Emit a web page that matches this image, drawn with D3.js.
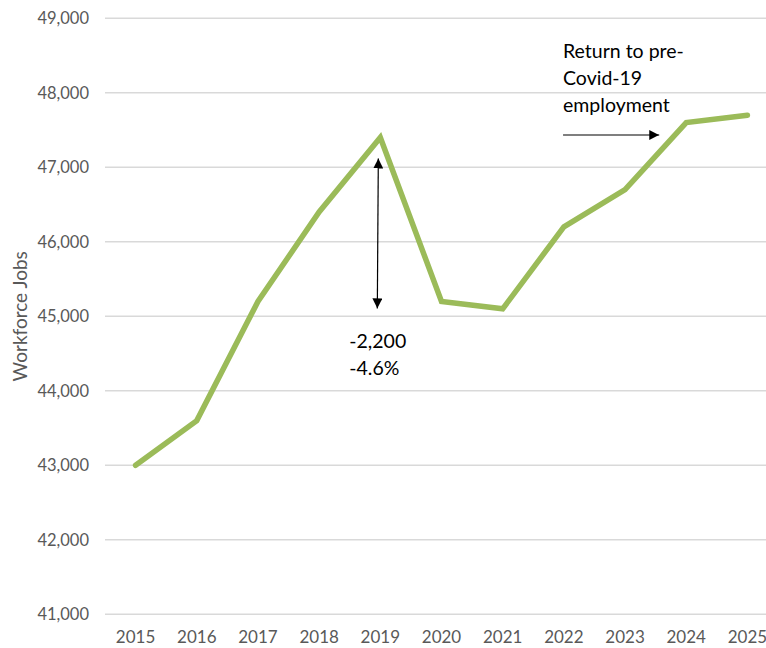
<!DOCTYPE html>
<html>
<head>
<meta charset="utf-8">
<script src="https://cdn.jsdelivr.net/npm/d3@7"></script>
<style>
  html, body { margin: 0; padding: 0; background: #fff; }
  svg { display: block; }
  text { font-family: Lato, "Open Sans", sans-serif; }
</style>
</head>
<body>
<div id="chart"></div>
<script>
// Workforce jobs by year
const years = ["2015", "2016", "2017", "2018", "2019", "2020", "2021", "2022", "2023", "2024", "2025"];
const jobs = [43000, 43600, 45200, 46400, 47400, 45200, 45100, 46200, 46700, 47600, 47700];
const yTicks = [41000, 42000, 43000, 44000, 45000, 46000, 47000, 48000, 49000];
const dropLabel = ["-2,200", "-4.6%"];
const recoveryLabel = ["Return to pre-", "Covid-19", "employment"];

const width = 766, height = 648;
const margin = { top: 18, right: -12, bottom: 34, left: 105 };

const svg = d3.select("#chart").append("svg")
  .attr("width", width).attr("height", height);

const x = d3.scaleBand()
  .domain(years)
  .range([margin.left, width - margin.right])
  .paddingInner(0).paddingOuter(0);

const y = d3.scaleLinear()
  .domain([41000, 49000])
  .range([height - margin.bottom + 0.3, margin.top + 0.3]);

const cx = d => x(d) + x.bandwidth() / 2;

// horizontal gridlines
svg.append("g")
  .selectAll("line")
  .data(yTicks)
  .join("line")
  .attr("x1", margin.left)
  .attr("x2", width)
  .attr("y1", d => y(d))
  .attr("y2", d => y(d))
  .attr("stroke", "#d9d9d9")
  .attr("stroke-width", 1.5);

// y axis labels
const yAxis = d3.axisLeft(y)
  .tickValues(yTicks)
  .tickFormat(d3.format(","))
  .tickSize(0)
  .tickPadding(0);
svg.append("g")
  .attr("transform", `translate(${margin.left - 16},0)`)
  .call(yAxis)
  .call(g => g.select(".domain").remove())
  .call(g => g.selectAll("text")
    .attr("fill", "#595959")
    .style("font-size", "16.5px")
    .style("font-family", "Lato, sans-serif"));

// x axis labels
const xAxis = d3.axisBottom(x).tickSize(0).tickPadding(0);
svg.append("g")
  .attr("transform", `translate(0,${height - margin.bottom + 17})`)
  .call(xAxis)
  .call(g => g.select(".domain").remove())
  .call(g => g.selectAll("text")
    .attr("fill", "#595959")
    .style("font-size", "17px")
    .style("font-family", "Lato, sans-serif"));

// y axis title
svg.append("text")
  .attr("transform", `translate(27,${(y(41000) + y(49000)) / 2}) rotate(-90)`)
  .attr("text-anchor", "middle")
  .attr("fill", "#595959")
  .style("font-size", "19px")
  .text("Workforce Jobs");

// the series line
const line = d3.line()
  .x((d, i) => cx(years[i]))
  .y(d => y(d));

svg.append("path")
  .datum(jobs)
  .attr("fill", "none")
  .attr("stroke", "#9bbb59")
  .attr("stroke-width", 5.5)
  .attr("stroke-linejoin", "miter")
  .attr("stroke-linecap", "round")
  .attr("d", line);

// arrow markers
const defs = svg.append("defs");
defs.append("marker")
  .attr("id", "head")
  .attr("viewBox", "0 0 10 10")
  .attr("refX", 10).attr("refY", 5)
  .attr("markerWidth", 10).attr("markerHeight", 10)
  .attr("markerUnits", "userSpaceOnUse")
  .attr("orient", "auto-start-reverse")
  .append("path")
  .attr("d", "M0,0 L10,5 L0,10 Z")
  .attr("fill", "#000");

// drop from 2019 to 2020
const peakIdx = years.indexOf("2019");
const dropX = cx("2019") - 2;
svg.append("line")
  .attr("x1", dropX).attr("x2", dropX - 1)
  .attr("y1", y(jobs[peakIdx]) + 21)
  .attr("y2", y(jobs[peakIdx + 1]) + 7)
  .attr("stroke", "#000")
  .attr("stroke-width", 1.2)
  .attr("marker-start", "url(#head)")
  .attr("marker-end", "url(#head)");

svg.append("text")
  .attr("x", cx("2019") - 31)
  .attr("y", y(jobs[peakIdx + 1]) + 47)
  .attr("fill", "#000")
  .style("font-size", "19.5px")
  .selectAll("tspan")
  .data(dropLabel)
  .join("tspan")
  .attr("x", cx("2019") - 31)
  .attr("dy", (d, i) => i === 0 ? 0 : 27)
  .text(d => d);

// recovery note pointing at 2024
const noteX = cx("2023") - 62;
svg.append("text")
  .attr("x", noteX)
  .attr("y", 58)
  .attr("fill", "#000")
  .style("font-size", "19.5px")
  .selectAll("tspan")
  .data(recoveryLabel)
  .join("tspan")
  .attr("x", noteX)
  .attr("dy", (d, i) => i === 0 ? 0 : 27)
  .text(d => d);

svg.append("line")
  .attr("x1", noteX).attr("x2", cx("2024") - 27)
  .attr("y1", 135).attr("y2", 135)
  .attr("stroke", "#000")
  .attr("stroke-width", 1.2)
  .attr("marker-end", "url(#head)");
</script>
</body>
</html>
